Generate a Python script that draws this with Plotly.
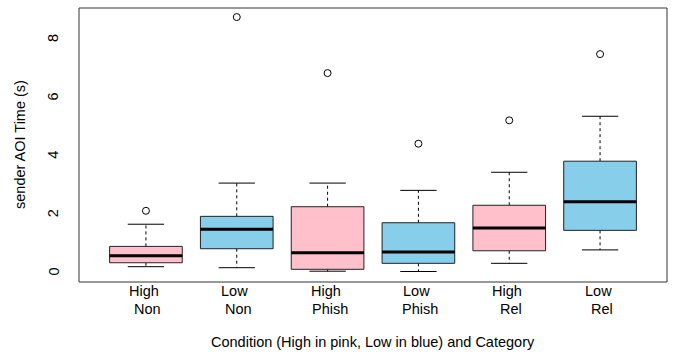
import plotly.graph_objects as go

categories = ["High Non", "Low Non", "High Phish", "Low Phish", "High Rel", "Low Rel"]
label_top = ["High", "Low", "High", "Low", "High", "Low"]
label_bottom = ["Non", "Non", "Phish", "Phish", "Rel", "Rel"]
conditions = ["High", "Low", "High", "Low", "High", "Low"]
lower_whisker = [0.165, 0.13, 0.01, 0.0, 0.28, 0.74]
q1 = [0.30, 0.78, 0.075, 0.28, 0.71, 1.41]
median = [0.54, 1.45, 0.64, 0.67, 1.49, 2.39]
q3 = [0.86, 1.89, 2.22, 1.67, 2.27, 3.78]
upper_whisker = [1.62, 3.03, 3.03, 2.78, 3.40, 5.32]
outliers = [[2.08], [8.72], [6.80], [4.38], [5.18], [7.45]]
y_ticks = [0, 2, 4, 6, 8]

colors = {"High": "#FFC0CB", "Low": "#87CEEB"}
FONT = "Liberation Sans, Arial, Helvetica, sans-serif"
FS = 14.5
BW = 0.4   # half box width
CW = 0.2   # half cap width

fig = go.Figure()
for i, cat in enumerate(categories):
    x = i + 1
    # dashed whiskers
    fig.add_trace(go.Scatter(x=[x, x, None, x, x],
                             y=[q3[i], upper_whisker[i], None, q1[i], lower_whisker[i]],
                             mode="lines", line=dict(color="black", width=1, dash="3px,3px"),
                             hoverinfo="skip", showlegend=False))
    # caps
    fig.add_trace(go.Scatter(x=[x - CW, x + CW, None, x - CW, x + CW],
                             y=[upper_whisker[i], upper_whisker[i], None, lower_whisker[i], lower_whisker[i]],
                             mode="lines", line=dict(color="black", width=1),
                             hoverinfo="skip", showlegend=False))
    # box
    fig.add_trace(go.Scatter(x=[x - BW, x + BW, x + BW, x - BW, x - BW],
                             y=[q1[i], q1[i], q3[i], q3[i], q1[i]],
                             mode="lines", fill="toself", fillcolor=colors[conditions[i]],
                             line=dict(color="#222222", width=1), name=cat, showlegend=False))
    # median
    fig.add_trace(go.Scatter(x=[x - BW, x + BW], y=[median[i], median[i]],
                             mode="lines", line=dict(color="black", width=3),
                             hoverinfo="skip", showlegend=False))
    # outliers
    fig.add_trace(go.Scatter(x=[x] * len(outliers[i]), y=outliers[i], mode="markers",
                             marker=dict(symbol="circle-open", size=7, color="black",
                                         line=dict(width=1)),
                             showlegend=False))

annotations = []
for i in range(len(categories)):
    annotations.append(dict(x=i + 1, y=0, xref="x", yref="paper", yshift=-9,
                            text=label_top[i] + "\u00a0", showarrow=False,
                            xanchor="center", yanchor="middle",
                            font=dict(family=FONT, size=FS, color="black")))
    annotations.append(dict(x=i + 1, y=0, xref="x", yref="paper", yshift=-27,
                            text="\u00a0" + label_bottom[i], showarrow=False,
                            xanchor="center", yanchor="middle",
                            font=dict(family=FONT, size=FS, color="black")))
for v in y_ticks:
    annotations.append(dict(x=0, y=v, xref="paper", yref="y", xshift=-26,
                            text=str(v), textangle=-90, showarrow=False,
                            xanchor="center", yanchor="middle",
                            font=dict(family=FONT, size=FS, color="black")))
annotations.append(dict(x=0.5, y=0, xref="paper", yref="paper", yshift=-60,
                        text="Condition (High in pink, Low in blue) and Category",
                        showarrow=False, xanchor="center", yanchor="middle",
                        font=dict(family=FONT, size=FS, color="black")))
annotations.append(dict(x=0, y=0.5, xref="paper", yref="paper", xshift=-59,
                        text="sender AOI Time (s)", textangle=-90,
                        showarrow=False, xanchor="center", yanchor="middle",
                        font=dict(family=FONT, size=FS, color="black")))

fig.update_layout(
    width=678, height=354,
    margin=dict(l=79, r=11, t=8, b=72, autoexpand=False),
    plot_bgcolor="white", paper_bgcolor="white",
    showlegend=False,
    annotations=annotations,
    shapes=[dict(type="rect", xref="paper", yref="paper", x0=0, y0=0, x1=1, y1=1,
                 line=dict(color="#333333", width=1))],
    xaxis=dict(range=[0.263, 6.737], showgrid=False, zeroline=False,
               showticklabels=False, ticks="", automargin=False),
    yaxis=dict(range=[-0.36, 9.03], showgrid=False, zeroline=False,
               showticklabels=False, ticks="", automargin=False),
)

fig.write_html("out.html", config={"displayModeBar": False},
               post_script="document.body.style.margin='0px';document.body.style.padding='0px';")
